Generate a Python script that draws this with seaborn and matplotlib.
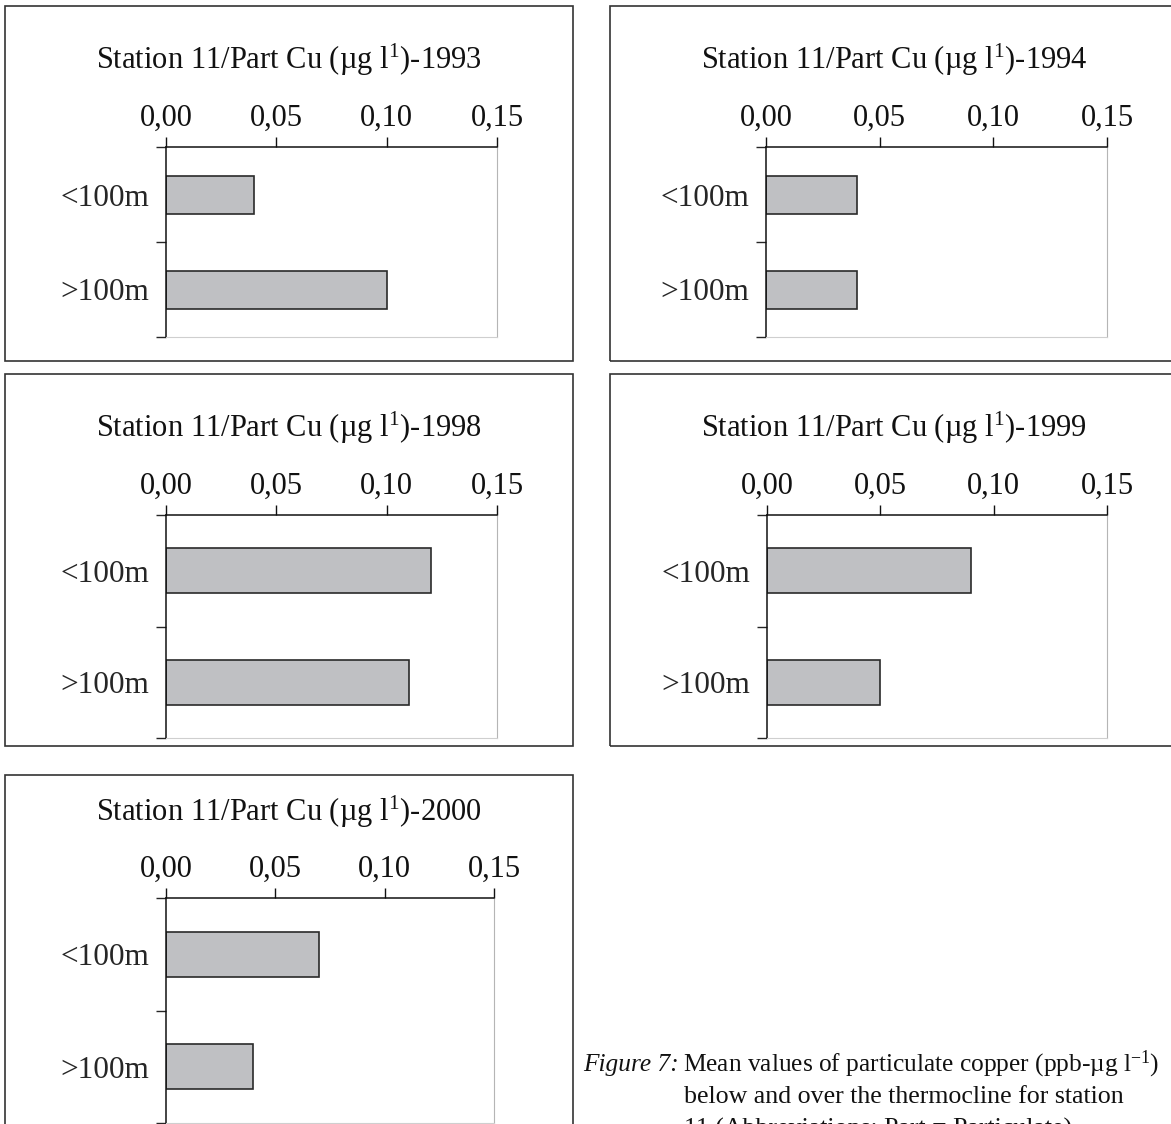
import matplotlib
matplotlib.use("Agg")
import matplotlib.pyplot as plt
from matplotlib.patches import Rectangle
import seaborn as sns

# data
depths = ["<100m", ">100m"]
years = ["1993", "1994", "1998", "1999", "2000"]
cu_1993 = [0.04, 0.10]
cu_1994 = [0.04, 0.04]
cu_1998 = [0.12, 0.11]
cu_1999 = [0.09, 0.05]
cu_2000 = [0.07, 0.04]
xticks = [0.00, 0.05, 0.10, 0.15]
xtick_labels = ["0,00", "0,05", "0,10", "0,15"]

sns.set_style("ticks")
plt.rcParams['font.family'] = ['Liberation Serif', 'DejaVu Serif']
plt.rcParams['mathtext.fontset'] = 'custom'
plt.rcParams['mathtext.rm'] = 'Liberation Serif'
plt.rcParams['mathtext.it'] = 'Liberation Serif:italic'

W, H = 1171, 1124
fig = plt.figure(figsize=(W / 100, H / 100), dpi=100)
fig.patch.set_facecolor("white")

def px_axes(x0, y0, x1, y1):
    return fig.add_axes([x0 / W, 1 - y1 / H, (x1 - x0) / W, (y1 - y0) / H])

# (values, axes pixels, box pixels)
panels = [
    (cu_1993, (166, 147, 497, 337), (5, 6, 573, 361)),
    (cu_1994, (766, 147, 1107, 337), (610, 6, 1178, 361)),
    (cu_1998, (166, 515, 497, 738), (5, 374, 573, 746)),
    (cu_1999, (767, 515, 1107, 738), (610, 374, 1178, 746)),
    (cu_2000, (166, 898, 494, 1123), (5, 775, 573, 1132)),
]
title_y = [60, 60, 428, 428, 812]

for (vals, apx, bpx), yr, ty in zip(panels, years, title_y):
    # panel frame
    bx0, by0, bx1, by1 = bpx
    fig.add_artist(Rectangle((bx0 / W, 1 - by1 / H), (bx1 - bx0) / W, (by1 - by0) / H,
                             transform=fig.transFigure, fill=False,
                             edgecolor="#333333", linewidth=1.2))
    ax = px_axes(*apx)
    sns.barplot(x=vals, y=depths, orient="h", color="#bfc0c3", saturation=1,
                edgecolor="#2a2a2a", linewidth=1.2, width=0.4, ax=ax)
    ax.set_xlim(0, 0.15)
    ax.set_ylim(1.5, -0.5)
    ax.xaxis.tick_top()
    ax.set_xticks(xticks)
    ax.set_xticklabels(xtick_labels, fontsize=22)
    ax.tick_params(axis="x", direction="out", length=7, width=1, pad=3, colors="#111111")
    ax.set_yticks([-0.5, 0.5, 1.5])
    ax.set_yticklabels([])
    ax.set_yticks([0, 1], minor=True)
    ax.set_yticklabels(depths, minor=True, fontsize=22.5)
    ax.tick_params(axis="y", which="major", direction="out", length=7, width=1)
    ax.tick_params(axis="y", which="minor", length=0, pad=12)
    ax.set_xlabel("")
    ax.set_ylabel("")
    for s in ["top", "left"]:
        ax.spines[s].set_visible(True)
        ax.spines[s].set_color("#111111")
        ax.spines[s].set_linewidth(1.1)
    ax.spines["right"].set_visible(True)
    ax.spines["right"].set_color("#b5b5b5")
    ax.spines["bottom"].set_visible(True)
    ax.spines["bottom"].set_color("#cfcfcf")
    fig.text(((bx0 + bx1) / 2) / W, 1 - ty / H,
             "Station 11/Part Cu (\u00b5g l$^{1}$)-" + yr,
             ha="center", va="center", fontsize=22, color="#111111")

# caption
fig.text(583 / W, 1 - 1071 / H, "Figure 7:", fontsize=18.3, style="italic",
         ha="left", va="baseline", color="#111111")
fig.text(683 / W, 1 - 1071 / H, "Mean values of particulate copper (ppb-\u00b5g l$^{-1}$)",
         fontsize=18.3, ha="left", va="baseline", color="#111111")
fig.text(684 / W, 1 - 1103 / H, "below and over the thermocline for station",
         fontsize=18.6, ha="left", va="baseline", color="#111111")
fig.text(684 / W, 1 - 1136 / H, "11 (Abbreviations: Part = Particulate)",
         fontsize=18.6, ha="left", va="baseline", color="#111111")

fig.savefig("out.png", dpi=100)
